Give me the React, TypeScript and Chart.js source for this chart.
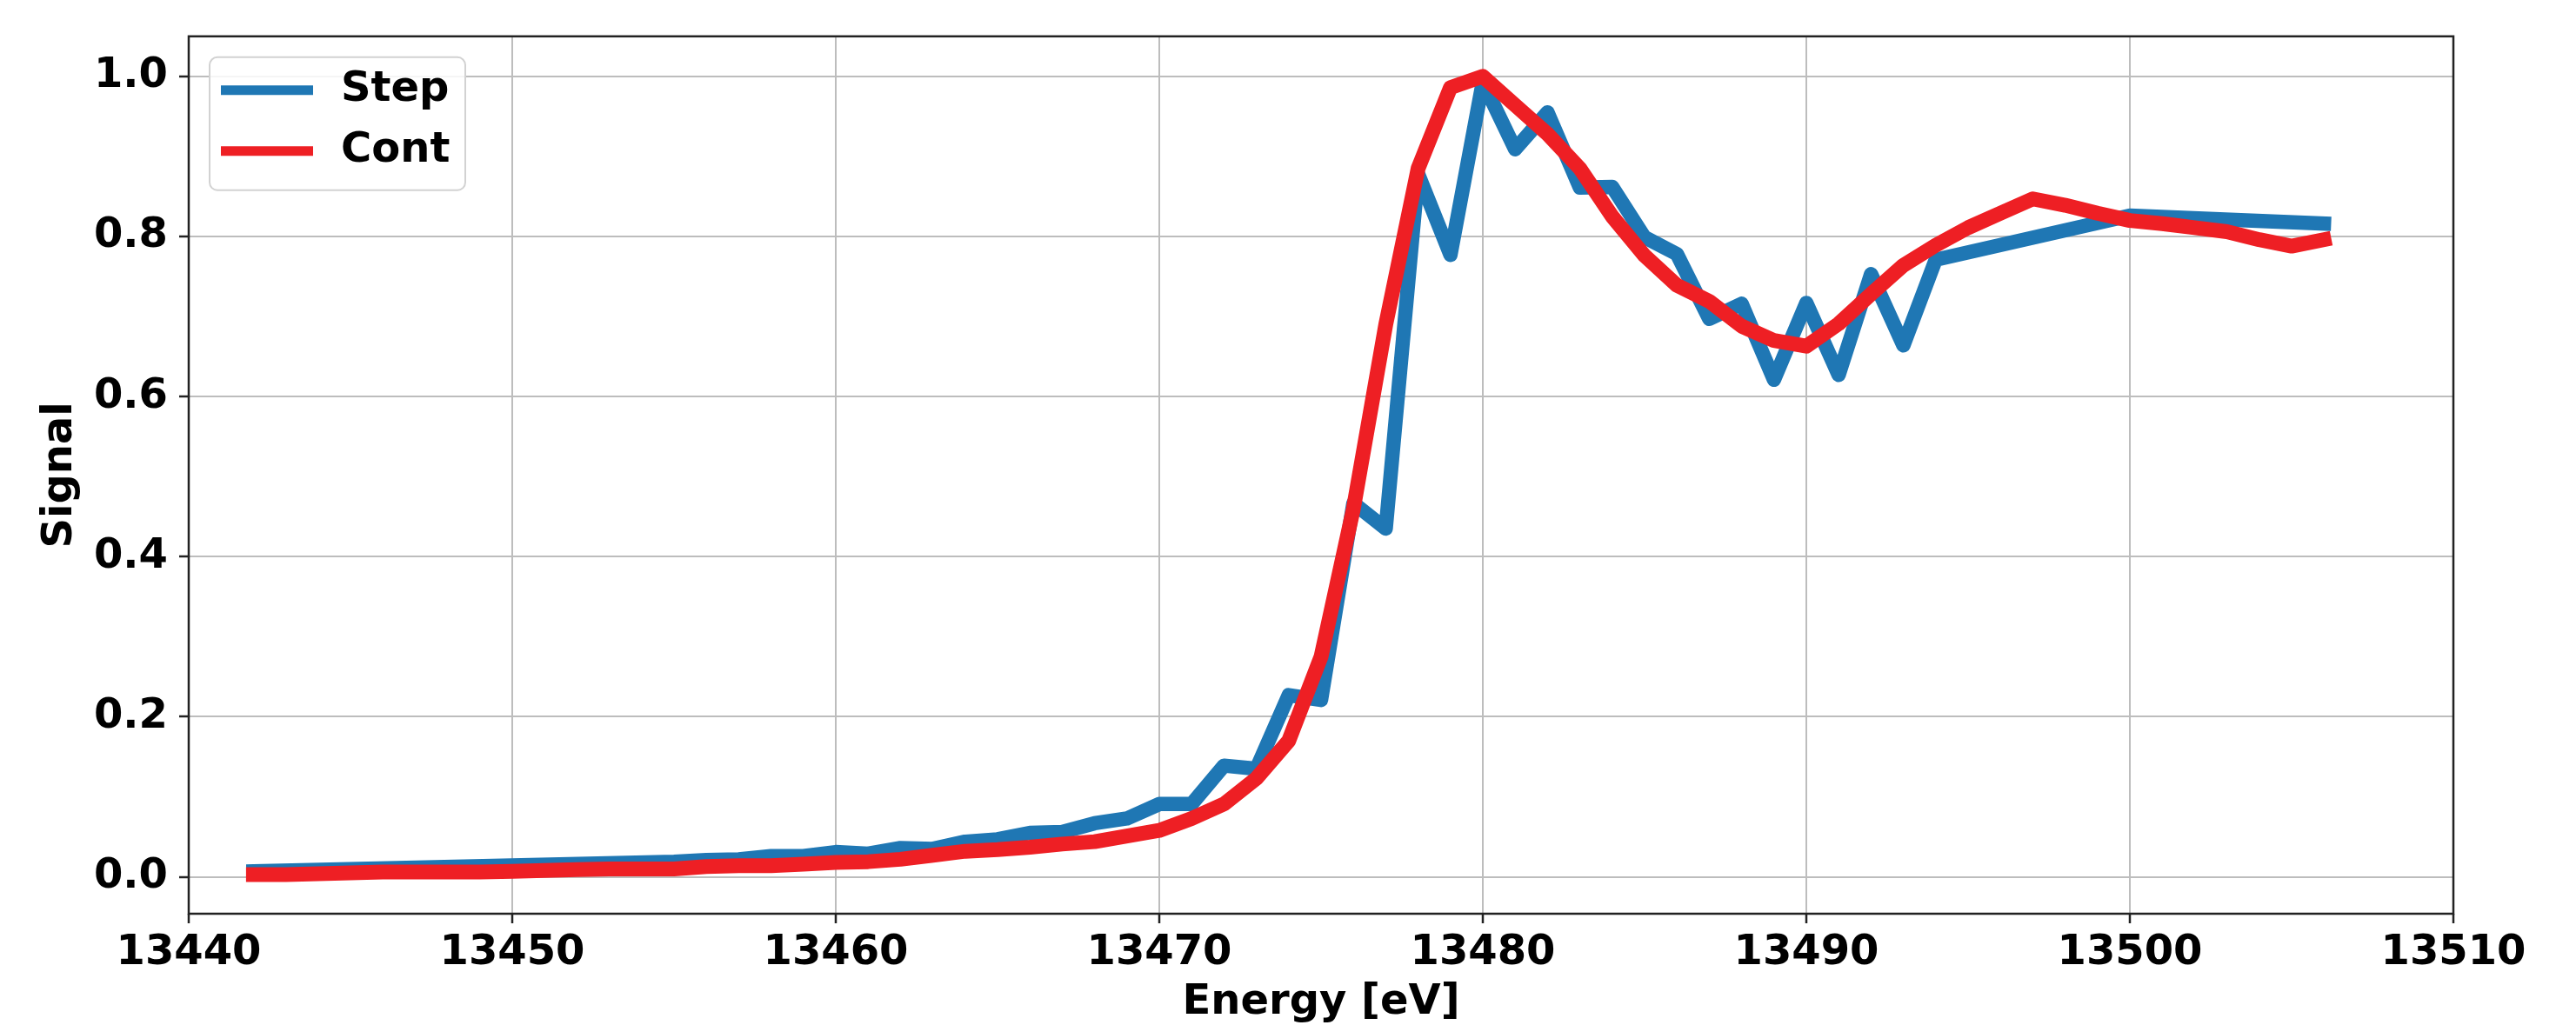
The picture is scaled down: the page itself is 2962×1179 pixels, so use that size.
import React, { useEffect, useRef } from 'react';
import { Chart, registerables } from 'chart.js';

Chart.register(...registerables);

// ---- Data ----
const stepEnergy = [
  13442, 13455, 13456, 13457, 13458, 13459, 13460, 13461, 13462, 13463, 13464,
  13465, 13466, 13467, 13468, 13469, 13470, 13471, 13472, 13473, 13474, 13475,
  13476, 13477, 13478, 13479, 13480, 13481, 13482, 13483, 13484, 13485, 13486,
  13487, 13488, 13489, 13490, 13491, 13492, 13493, 13494, 13500, 13506,
];
const stepSignal = [
  0.007, 0.019, 0.021, 0.022, 0.026, 0.026, 0.031, 0.029, 0.036, 0.035, 0.044,
  0.047, 0.055, 0.056, 0.067, 0.073, 0.091, 0.091, 0.139, 0.135, 0.227, 0.221,
  0.467, 0.435, 0.878, 0.777, 0.993, 0.909, 0.955, 0.861, 0.862, 0.799, 0.778,
  0.697, 0.716, 0.621, 0.717, 0.627, 0.753, 0.664, 0.771, 0.826, 0.816,
];

const contEnergy = [
  13442, 13443, 13444, 13445, 13446, 13447, 13448, 13449, 13450, 13451, 13452,
  13453, 13454, 13455, 13456, 13457, 13458, 13459, 13460, 13461, 13462, 13463,
  13464, 13465, 13466, 13467, 13468, 13469, 13470, 13471, 13472, 13473, 13474,
  13475, 13476, 13477, 13478, 13479, 13480, 13481, 13482, 13483, 13484, 13485,
  13486, 13487, 13488, 13489, 13490, 13491, 13492, 13493, 13494, 13495, 13496,
  13497, 13498, 13499, 13500, 13501, 13502, 13503, 13504, 13505, 13506,
];
const contSignal = [
  0.003, 0.003, 0.004, 0.005, 0.006, 0.006, 0.006, 0.006, 0.007, 0.008, 0.009,
  0.010, 0.010, 0.010, 0.013, 0.014, 0.014, 0.016, 0.018, 0.019, 0.022, 0.027,
  0.032, 0.034, 0.037, 0.041, 0.044, 0.051, 0.058, 0.073, 0.091, 0.123, 0.170,
  0.275, 0.460, 0.690, 0.885, 0.986, 1.000, 0.964, 0.928, 0.885, 0.825, 0.776,
  0.739, 0.719, 0.688, 0.670, 0.663, 0.691, 0.728, 0.764, 0.789, 0.811, 0.829,
  0.847, 0.839, 0.829, 0.820, 0.816, 0.811, 0.806, 0.796, 0.788, 0.796,
];

const seriesNames = ['Step', 'Cont'];
const xTicks = [13440, 13450, 13460, 13470, 13480, 13490, 13500, 13510];
const yTicks = [0, 0.2, 0.4, 0.6, 0.8, 1.0];

const FONT = "'DejaVu Sans', sans-serif";
const BLUE = '#1f77b4';
const RED = '#ee1f24';

export default function App() {
  const ref = useRef<HTMLCanvasElement>(null);

  useEffect(() => {
    document.body.style.margin = '0';
    if (!ref.current) return;

    const frameLegend = {
      id: 'frameLegend',
      afterDatasetsDraw(chart: any) {
        const { ctx, chartArea: a } = chart;
        ctx.save();
        ctx.strokeStyle = '#222';
        ctx.lineWidth = 2.5;
        ctx.strokeRect(a.left, a.top, a.right - a.left, a.bottom - a.top);

        const bx = a.left + 24;
        const by = a.top + 24;
        const bw = 294;
        const bh = 153;
        ctx.beginPath();
        ctx.roundRect(bx, by, bw, bh, 9);
        ctx.fillStyle = 'rgba(255,255,255,0.85)';
        ctx.fill();
        ctx.strokeStyle = '#d2d2d2';
        ctx.lineWidth = 2;
        ctx.stroke();

        chart.data.datasets.forEach((ds: any, i: number) => {
          const y = by + 38 + i * 70;
          ctx.beginPath();
          ctx.moveTo(bx + 13, y);
          ctx.lineTo(bx + 119, y);
          ctx.strokeStyle = ds.borderColor;
          ctx.lineWidth = 11;
          ctx.lineCap = 'butt';
          ctx.stroke();
          ctx.fillStyle = '#000';
          ctx.font = `bold 48px ${FONT}`;
          ctx.textBaseline = 'middle';
          ctx.textAlign = 'left';
          ctx.fillText(ds.label, bx + 151, y);
        });
        ctx.restore();
      },
    };

    const tickFont = { family: FONT, weight: 'bold' as const, size: 48 };
    const titleFont = { family: FONT, weight: 'bold' as const, size: 48, lineHeight: 1 };

    const chart = new Chart(ref.current, {
      type: 'line',
      data: {
        datasets: [
          {
            label: seriesNames[0],
            data: stepEnergy.map((x, i) => ({ x, y: stepSignal[i] })),
            borderColor: BLUE,
            backgroundColor: BLUE,
            borderWidth: 16.5,
            pointRadius: 0,
            borderCapStyle: 'square',
            borderJoinStyle: 'round',
            tension: 0,
            order: 1,
          },
          {
            label: seriesNames[1],
            data: contEnergy.map((x, i) => ({ x, y: contSignal[i] })),
            borderColor: RED,
            backgroundColor: RED,
            borderWidth: 17,
            pointRadius: 0,
            borderCapStyle: 'square',
            borderJoinStyle: 'round',
            tension: 0,
            order: 0,
          },
        ],
      },
      options: {
        animation: false,
        responsive: false,
        devicePixelRatio: 1,
        layout: { padding: { top: 35, right: 141, left: 0, bottom: 0 } },
        plugins: {
          legend: { display: false },
          tooltip: { enabled: false },
        },
        scales: {
          x: {
            type: 'linear',
            min: 13440,
            max: 13510,
            afterBuildTicks: (s: any) => {
              s.ticks = xTicks.map((v) => ({ value: v }));
            },
            afterFit: (s: any) => {
              s.height = 128;
            },
            ticks: {
              callback: (v: any) => String(v),
              font: tickFont,
              color: '#000',
              padding: 6,
              maxRotation: 0,
              autoSkip: false,
            },
            grid: {
              color: '#bdbdbd',
              lineWidth: 2,
              tickLength: 11,
              tickColor: '#222',
              tickWidth: 2.5,
            },
            border: { display: false },
            title: {
              display: true,
              text: 'Energy [eV]',
              font: titleFont,
              color: '#000',
              padding: { top: 0, bottom: 1 },
            },
          },
          y: {
            type: 'linear',
            min: -0.046,
            max: 1.05,
            afterBuildTicks: (s: any) => {
              s.ticks = yTicks.map((v) => ({ value: v }));
            },
            afterFit: (s: any) => {
              s.width = 217;
            },
            ticks: {
              callback: (v: any) => Number(v).toFixed(1),
              font: tickFont,
              color: '#000',
              padding: 13,
            },
            grid: {
              color: '#bdbdbd',
              lineWidth: 2,
              tickLength: 11,
              tickColor: '#222',
              tickWidth: 2.5,
            },
            border: { display: false },
            title: {
              display: true,
              text: 'Signal',
              font: titleFont,
              color: '#000',
              padding: { top: 46, bottom: 0 },
            },
          },
        },
      },
      plugins: [frameLegend],
    } as any);

    return () => chart.destroy();
  }, []);

  return (
    <div style={{ width: 2962, height: 1179, background: '#fff' }}>
      <canvas ref={ref} width={2962} height={1179} style={{ display: 'block' }} />
    </div>
  );
}
